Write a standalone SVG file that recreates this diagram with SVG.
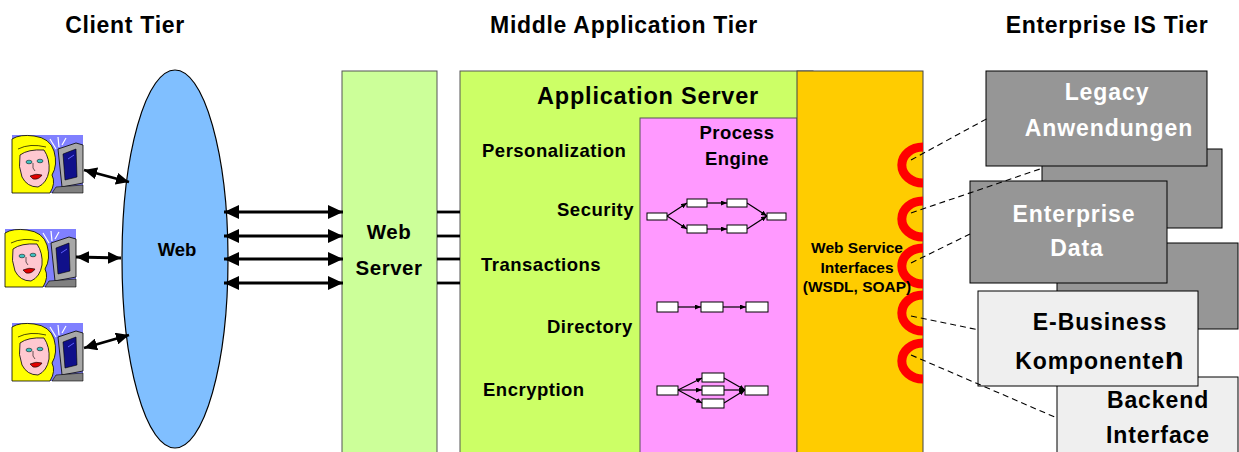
<svg xmlns="http://www.w3.org/2000/svg" width="1239" height="452" viewBox="0 0 1239 452">
  <style>
    text { font-family: "Liberation Sans", Arial, sans-serif; font-weight: bold; fill: #000; }
    .hdr { font-size: 23px; letter-spacing: 0.7px; text-anchor: middle; }
    .lbl { font-size: 18.5px; letter-spacing: 0.5px; }
    .mid { text-anchor: middle; }
    .big { font-size: 23px; letter-spacing: 0.9px; }
    .wht { fill: #fff; }
    .box { stroke: #555; stroke-width: 1; }
    .ebox { stroke: #000; stroke-width: 1; }
    .arr { stroke: #000; stroke-width: 2.8; fill: none; marker-start: url(#head); marker-end: url(#head); }
    .arrS { stroke: #000; stroke-width: 2.8; fill: none; marker-start: url(#headS); marker-end: url(#headS); }
    .dash { stroke: #000; stroke-width: 1.1; stroke-dasharray: 6 4; fill: none; }
    .ring { stroke: #ff0000; stroke-width: 9; fill: none; }
    .pb { fill: #fff; stroke: #000; stroke-width: 1; }
    .pl { stroke: #000; stroke-width: 1.2; fill: none; marker-end: url(#tiny); }
  </style>
  <defs>
    <marker id="head" markerUnits="userSpaceOnUse" markerWidth="15" markerHeight="14" refX="15" refY="7" orient="auto-start-reverse">
      <path d="M0,0 L15,7 L0,14 Z" fill="#000"/>
    </marker>
    <marker id="headS" markerUnits="userSpaceOnUse" markerWidth="13" markerHeight="12" refX="13" refY="6" orient="auto-start-reverse">
      <path d="M0,0 L13,6 L0,12 Z" fill="#000"/>
    </marker>
    <marker id="tiny" markerUnits="userSpaceOnUse" markerWidth="6" markerHeight="5" refX="6" refY="2.5" orient="auto">
      <path d="M0,0 L6,2.5 L0,5 Z" fill="#000"/>
    </marker>
    <!-- user at a workstation -->
    <g id="user">
      <rect x="0" y="0" width="71" height="58" fill="#8080ff"/>
      <g stroke="#fff" stroke-width="1.2">
        <line x1="44" y1="14" x2="38" y2="4"/>
        <line x1="47" y1="12" x2="46" y2="2"/>
        <line x1="42" y1="20" x2="34" y2="14"/>
        <line x1="50" y1="10" x2="54" y2="3"/>
        <line x1="43" y1="26" x2="36" y2="24"/>
      </g>
      <path d="M0,58 L0,4 Q8,-1 22,1 Q38,3 42,16 Q46,30 40,40 Q44,48 38,58 Z" fill="#ffff00" stroke="#000" stroke-width="0.8"/>
      <path d="M8,20 Q16,14 32,15 Q38,24 37,36 Q35,48 26,52 Q15,52 10,42 Q6,32 8,20 Z" fill="#ffc8d0" stroke="#000" stroke-width="0.8"/>
      <path d="M6,14 Q18,8 34,12" fill="none" stroke="#000" stroke-width="0.7"/>
      <ellipse cx="17" cy="27" rx="3" ry="1.8" fill="#40c0c0" stroke="#000" stroke-width="0.5"/>
      <ellipse cx="28" cy="26" rx="3" ry="1.8" fill="#40c0c0" stroke="#000" stroke-width="0.5"/>
      <path d="M21,28 Q20,34 23,36" fill="none" stroke="#000" stroke-width="0.6"/>
      <path d="M18,41 Q24,38 30,40 Q27,45 21,44 Z" fill="#e00000" stroke="#000" stroke-width="0.6"/>
      <path d="M46,14 L64,8 L71,10 L71,48 L50,52 Z" fill="#a8a8a8" stroke="#000" stroke-width="0.8"/>
      <path d="M51,19 L64,14 L65,42 L53,45 Z" fill="#10108a" stroke="#000" stroke-width="0.6"/>
      <path d="M56,24 L62,20" stroke="#6060ff" stroke-width="1"/>
      <path d="M44,52 L71,50 L71,58 L40,58 Z" fill="#808080" stroke="#000" stroke-width="0.6"/>
    </g>
  </defs>

  <rect width="1239" height="452" fill="#fff"/>

  <!-- tier headings -->
  <g id="headings">
    <text class="hdr" x="125" y="33">Client Tier</text>
    <text class="hdr" x="624" y="33">Middle Application Tier</text>
    <text class="hdr" x="1107" y="33">Enterprise IS Tier</text>
  </g>

  <!-- client users -->
  <g id="client-1"><use href="#user" x="12" y="135"/></g>
  <g id="client-2"><use href="#user" x="5" y="229"/></g>
  <g id="client-3"><use href="#user" x="12" y="323"/></g>

  <!-- web cloud -->
  <g id="web">
    <ellipse cx="175" cy="259" rx="53" ry="189" fill="#80bfff" stroke="#000" stroke-width="1.2"/>
    <text class="mid" x="177" y="256" style="font-size:18.5px">Web</text>
  </g>

  <!-- web server -->
  <g id="web-server">
    <rect class="box" x="342" y="71" width="95" height="390" fill="#ccff99"/>
    <text class="mid" x="389" y="239" style="font-size:20.5px;letter-spacing:0.5px">Web</text>
    <text class="mid" x="389" y="275" style="font-size:20.5px;letter-spacing:0.5px">Server</text>
  </g>

  <!-- application server -->
  <g id="app-server">
    <rect class="box" x="460" y="71" width="353" height="390" fill="#ccff66"/>
    <text x="537" y="104" style="font-size:23.5px;letter-spacing:0.8px">Application Server</text>
    <text class="lbl" x="482" y="157">Personalization</text>
    <text class="lbl" x="557" y="216">Security</text>
    <text class="lbl" x="481" y="271">Transactions</text>
    <text class="lbl" x="547" y="333">Directory</text>
    <text class="lbl" x="483" y="396">Encryption</text>
  </g>

  <!-- process engine with workflow sketches -->
  <g id="process-engine">
    <rect class="box" x="640" y="118" width="157" height="343" fill="#ff99ff"/>
    <text class="mid" x="737" y="139" style="font-size:18.5px;letter-spacing:0.4px">Process</text>
    <text class="mid" x="737" y="165" style="font-size:18.5px;letter-spacing:0.4px">Engine</text>
    <!-- parallel branches -->
    <path class="pl" d="M667,216 L687,203"/>
    <path class="pl" d="M667,216 L687,229"/>
    <path class="pl" d="M707,203 L727,203"/>
    <path class="pl" d="M707,229 L727,229"/>
    <path class="pl" d="M747,203 L767,216"/>
    <path class="pl" d="M747,229 L767,216"/>
    <rect class="pb" x="647" y="213" width="20" height="7"/>
    <rect class="pb" x="687" y="199" width="20" height="8"/>
    <rect class="pb" x="727" y="199" width="20" height="8"/>
    <rect class="pb" x="687" y="225" width="20" height="8"/>
    <rect class="pb" x="727" y="225" width="20" height="8"/>
    <rect class="pb" x="767" y="213" width="19" height="7"/>
    <!-- sequence -->
    <path class="pl" d="M678,307 L701,307"/>
    <path class="pl" d="M723,307 L746,307"/>
    <rect class="pb" x="657" y="302" width="21" height="10"/>
    <rect class="pb" x="701" y="302" width="22" height="10"/>
    <rect class="pb" x="746" y="302" width="22" height="10"/>
    <!-- fan out / fan in -->
    <path class="pl" d="M678,390 L702,378"/>
    <path class="pl" d="M678,390 L702,390"/>
    <path class="pl" d="M678,390 L702,403"/>
    <path class="pl" d="M724,378 L745,390"/>
    <path class="pl" d="M724,390 L745,390"/>
    <path class="pl" d="M724,403 L745,390"/>
    <rect class="pb" x="657" y="386" width="21" height="9"/>
    <rect class="pb" x="702" y="373" width="22" height="9"/>
    <rect class="pb" x="702" y="386" width="22" height="9"/>
    <rect class="pb" x="702" y="399" width="22" height="9"/>
    <rect class="pb" x="745" y="386" width="23" height="9"/>
  </g>

  <!-- web service interfaces -->
  <g id="ws-interfaces">
    <rect x="797" y="71" width="126" height="390" fill="#ffcc00" stroke="#444" stroke-width="1"/>
    <path class="ring" d="M923,147 A20,17 0 0 0 923,183"/>
    <path class="ring" d="M923,201 A20,17 0 0 0 923,237"/>
    <path class="ring" d="M923,248 A20,17 0 0 0 923,284"/>
    <path class="ring" d="M923,295 A20,17 0 0 0 923,331"/>
    <path class="ring" d="M923,343 A20,17 0 0 0 923,379"/>
    <text class="mid" x="857" y="253" style="font-size:15.5px">Web Service</text>
    <text class="mid" x="857" y="273" style="font-size:15.5px">Interfaces</text>
    <text class="mid" x="857" y="292" style="font-size:15.5px">(WSDL, SOAP)</text>
  </g>

  <!-- enterprise systems -->
  <g id="enterprise-back-1"><rect class="ebox" x="1042" y="149" width="180" height="79" fill="#969696"/></g>
  <g id="legacy">
    <rect class="ebox" x="986" y="71" width="221" height="95" fill="#969696"/>
    <text class="mid wht big" x="1107" y="100">Legacy</text>
    <text class="mid wht big" x="1109" y="136">Anwendungen</text>
  </g>
  <g id="enterprise-back-2"><rect class="ebox" x="1057" y="243" width="181" height="86" fill="#969696"/></g>
  <g id="enterprise-data">
    <rect class="ebox" x="970" y="181" width="197" height="102" fill="#969696"/>
    <text class="mid wht big" x="1074" y="222">Enterprise</text>
    <text class="mid wht big" x="1077" y="256">Data</text>
  </g>
  <g id="backend">
    <rect class="ebox" x="1057" y="377" width="181" height="90" fill="#efefef"/>
    <text class="mid big" x="1158" y="408">Backend</text>
    <text class="mid big" x="1158" y="443">Interface</text>
  </g>
  <g id="e-business">
    <rect class="ebox" x="978" y="291" width="220" height="95" fill="#efefef"/>
    <text class="mid big" x="1100" y="330">E-Business</text>
    <text class="mid big" x="1100" y="369">Komponente<tspan style="font-size:31px">n</tspan></text>
  </g>

  <!-- connectors -->
  <g id="connectors">
    <path class="arrS" d="M84,170 L129,182"/>
    <path class="arrS" d="M76,257 L121,258"/>
    <path class="arrS" d="M84,348 L129,335"/>
    <path class="arr" d="M224,212 L343,212"/>
    <path class="arr" d="M224,236 L343,236"/>
    <path class="arr" d="M224,259 L343,259"/>
    <path class="arr" d="M224,283 L343,283"/>
    <g stroke="#000" stroke-width="2.8">
      <line x1="437" y1="212" x2="460" y2="212"/>
      <line x1="437" y1="236" x2="460" y2="236"/>
      <line x1="437" y1="259" x2="460" y2="259"/>
      <line x1="437" y1="283" x2="460" y2="283"/>
    </g>
    <path class="dash" d="M911,160 L990,117"/>
    <path class="dash" d="M911,213 L1043,168"/>
    <path class="dash" d="M911,263 L970,234"/>
    <path class="dash" d="M911,316 L979,330"/>
    <path class="dash" d="M911,355 L1057,418"/>
  </g>
</svg>
